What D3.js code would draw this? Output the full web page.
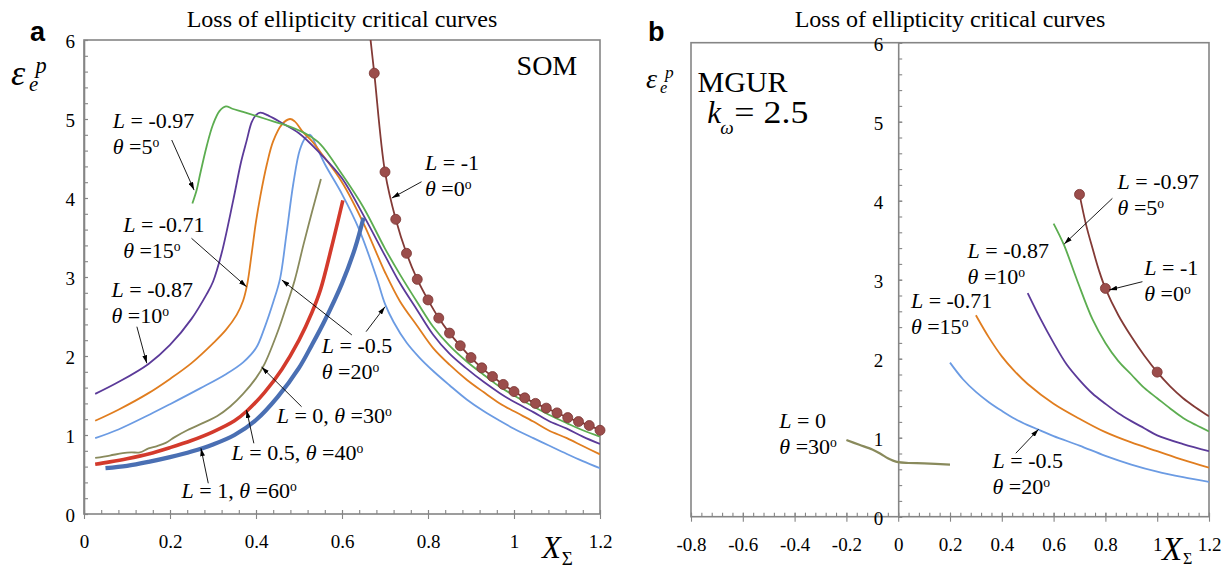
<!DOCTYPE html>
<html>
<head>
<meta charset="utf-8">
<script src="https://cdn.jsdelivr.net/npm/d3@7"></script>
<style>
  html, body { margin: 0; padding: 0; background: #fff; }
  svg, svg text { font-family: 'Liberation Serif', 'Times New Roman', Times, 'DejaVu Serif', serif; }
  svg text { fill: #000; }
  svg text.letter { font-family: 'Liberation Sans', Arial, sans-serif; font-weight: bold; }
</style>
</head>
<body>
<svg id="chart" width="1230" height="570" font-family="Liberation Serif"></svg>
<script>
// ---------------- tick values ----------------
const xTicksSOM  = [0, 0.2, 0.4, 0.6, 0.8, 1, 1.2];
const xTicksMGUR = [-0.8, -0.6, -0.4, -0.2, 0, 0.2, 0.4, 0.6, 0.8, 1, 1.2];
const yTicks     = [0, 1, 2, 3, 4, 5, 6];
const xMinorStep = 0.04;
const yMinorStep = 0.2;

// ---------------- SOM curves: [X_Sigma, eps_e^p] ----------------
const somTheta0 = [[0.664, 6.12], [0.675, 5.58], [0.7, 4.33], [0.725, 3.73], [0.75, 3.3], [0.775, 2.97],
  [0.8, 2.71], [0.825, 2.48], [0.85, 2.29], [0.875, 2.13], [0.9, 1.98], [0.925, 1.85], [0.95, 1.74],
  [0.975, 1.64], [1.0, 1.55], [1.025, 1.47], [1.05, 1.40], [1.075, 1.34], [1.1, 1.28], [1.125, 1.22],
  [1.15, 1.17], [1.175, 1.12], [1.2, 1.06]];
const somTheta5 = [[0.252, 3.93], [0.262, 4.1], [0.27, 4.3], [0.285, 4.65], [0.3, 4.93], [0.315, 5.1],
  [0.33, 5.16], [0.345, 5.13], [0.37, 5.09], [0.4, 5.04], [0.44, 4.97], [0.48, 4.9], [0.52, 4.8],
  [0.55, 4.68], [0.6, 4.3], [0.65, 3.88], [0.7, 3.36], [0.735, 3.03], [0.775, 2.68], [0.812, 2.37],
  [0.85, 2.13], [0.89, 1.93], [0.93, 1.76], [0.967, 1.61], [1.0, 1.5], [1.045, 1.36], [1.08, 1.26],
  [1.123, 1.15], [1.16, 1.06], [1.2, 0.98]];
const somTheta10 = [[0.026, 1.52], [0.08, 1.67], [0.15, 1.9], [0.2, 2.14], [0.25, 2.47], [0.285, 2.78],
  [0.3, 2.94], [0.32, 3.3], [0.347, 3.97], [0.365, 4.45], [0.378, 4.72], [0.39, 4.96], [0.4, 5.05],
  [0.41, 5.08], [0.43, 5.04], [0.46, 4.95], [0.5, 4.82], [0.55, 4.56], [0.6, 4.25], [0.65, 3.78],
  [0.7, 3.27], [0.735, 2.92], [0.775, 2.58], [0.812, 2.27], [0.85, 2.03], [0.89, 1.84], [0.93, 1.67],
  [0.967, 1.53], [1.0, 1.42], [1.045, 1.29], [1.08, 1.18], [1.123, 1.08], [1.16, 0.98], [1.2, 0.886]];
const somTheta15 = [[0.026, 1.18], [0.08, 1.32], [0.15, 1.53], [0.2, 1.71], [0.25, 1.91], [0.3, 2.16],
  [0.33, 2.33], [0.355, 2.52], [0.37, 2.7], [0.38, 2.92], [0.39, 3.3], [0.4, 3.7], [0.41, 4.02],
  [0.425, 4.42], [0.44, 4.72], [0.46, 4.93], [0.479, 5.0], [0.49, 4.97], [0.51, 4.83], [0.53, 4.72],
  [0.55, 4.58], [0.6, 4.2], [0.65, 3.68], [0.7, 3.06], [0.735, 2.69], [0.775, 2.38], [0.812, 2.1],
  [0.85, 1.89], [0.89, 1.7], [0.93, 1.54], [0.967, 1.4], [1.0, 1.3], [1.045, 1.17], [1.08, 1.06],
  [1.123, 0.96], [1.16, 0.86], [1.2, 0.755]];
const somTheta20 = [[0.026, 0.96], [0.08, 1.07], [0.153, 1.26], [0.2, 1.39], [0.27, 1.59], [0.33, 1.77],
  [0.37, 1.92], [0.4, 2.1], [0.42, 2.36], [0.44, 2.68], [0.456, 2.98], [0.471, 3.55], [0.487, 4.19],
  [0.502, 4.61], [0.515, 4.76], [0.526, 4.8], [0.54, 4.66], [0.56, 4.43], [0.6, 4.05], [0.64, 3.6],
  [0.68, 3.0], [0.7, 2.66], [0.72, 2.43], [0.75, 2.17], [0.78, 1.98], [0.812, 1.81], [0.85, 1.63],
  [0.89, 1.45], [0.93, 1.3], [0.967, 1.18], [1.0, 1.08], [1.045, 0.96], [1.08, 0.87], [1.123, 0.76],
  [1.16, 0.67], [1.2, 0.58]];
const somTheta30 = [[0.026, 0.71], [0.06, 0.74], [0.09, 0.77], [0.11, 0.78], [0.13, 0.78], [0.15, 0.83],
  [0.17, 0.86], [0.19, 0.9], [0.21, 0.97], [0.24, 1.06], [0.28, 1.16], [0.31, 1.24], [0.34, 1.36],
  [0.37, 1.52], [0.4, 1.72], [0.42, 1.9], [0.45, 2.3], [0.47, 2.62], [0.49, 2.96], [0.51, 3.4],
  [0.53, 3.82], [0.551, 4.24]];
const somTheta40 = [[0.026, 0.63], [0.06, 0.66], [0.1, 0.7], [0.15, 0.76], [0.2, 0.84], [0.25, 0.93],
  [0.3, 1.04], [0.35, 1.18], [0.38, 1.31], [0.42, 1.54], [0.46, 1.83], [0.5, 2.2], [0.53, 2.55],
  [0.55, 2.84], [0.575, 3.36], [0.602, 3.97]];
const somTheta60 = [[0.05, 0.58], [0.1, 0.61], [0.15, 0.66], [0.2, 0.72], [0.25, 0.79], [0.3, 0.88],
  [0.35, 1.0], [0.4, 1.19], [0.45, 1.48], [0.5, 1.85], [0.53, 2.14], [0.56, 2.45], [0.6, 2.92],
  [0.63, 3.36], [0.65, 3.75]];

// ---------------- MGUR curves (k_omega = 2.5) ----------------
const mgurTheta0 = [[0.7, 4.08], [0.725, 3.7], [0.75, 3.4], [0.775, 3.12], [0.8, 2.89], [0.85, 2.55],
  [0.9, 2.28], [0.95, 2.04], [1.0, 1.83], [1.05, 1.65], [1.1, 1.5], [1.15, 1.38], [1.2, 1.27]];
const mgurTheta0MarkerX = [0.7, 0.8, 1.0];
const mgurTheta5 = [[0.6, 3.71], [0.64, 3.44], [0.69, 3.0], [0.75, 2.5], [0.8, 2.2], [0.85, 1.97],
  [0.9, 1.8], [0.95, 1.63], [1.0, 1.5], [1.05, 1.37], [1.1, 1.25], [1.15, 1.16], [1.2, 1.08]];
const mgurTheta10 = [[0.5, 2.83], [0.55, 2.5], [0.6, 2.2], [0.65, 1.93], [0.7, 1.73], [0.75, 1.56],
  [0.8, 1.43], [0.85, 1.31], [0.9, 1.21], [0.95, 1.12], [1.0, 1.03], [1.1, 0.92], [1.2, 0.83]];
const mgurTheta15 = [[0.3, 2.55], [0.35, 2.27], [0.4, 2.03], [0.45, 1.84], [0.5, 1.68], [0.6, 1.43],
  [0.7, 1.24], [0.8, 1.07], [0.9, 0.94], [1.0, 0.83], [1.1, 0.72], [1.2, 0.62]];
const mgurTheta20 = [[0.2, 1.95], [0.25, 1.74], [0.3, 1.58], [0.35, 1.45], [0.4, 1.34], [0.45, 1.24],
  [0.5, 1.16], [0.55, 1.09], [0.6, 1.02], [0.7, 0.9], [0.8, 0.77], [0.9, 0.66], [1.0, 0.57],
  [1.1, 0.5], [1.2, 0.44]];
const mgurTheta30 = [[-0.2, 0.97], [-0.15, 0.91], [-0.1, 0.85], [-0.07, 0.8], [-0.04, 0.74],
  [-0.02, 0.71], [0, 0.69], [0.04, 0.68], [0.1, 0.675], [0.2, 0.66]];

// ---------------- styling ----------------
const AXIS = "#858585";
const SERIF = "'Liberation Serif', 'Times New Roman', Times, 'DejaVu Serif', serif";
const NOTE_SIZE = 22, TICK_SIZE = 19;
const C = {
  t0: "#833a36", t5: "#5cad50", t10: "#5b3a99", t15: "#e07d1f",
  t20: "#6b9be3", t30: "#898a5c", t40: "#d33a2c", t60: "#4a6fb3"
};

const svg = d3.select("#chart");
const defs = svg.append("defs");
defs.append("marker")
  .attr("id", "arrowHead").attr("viewBox", "0 0 10 6")
  .attr("refX", 10).attr("refY", 3)
  .attr("markerWidth", 8).attr("markerHeight", 5)
  .attr("markerUnits", "userSpaceOnUse").attr("orient", "auto")
  .append("path").attr("d", "M0,0L10,3L0,6Z").attr("fill", "#000");

function txt(parent) {
  return parent.append("text").attr("font-family", SERIF);
}

// text with *italic* runs and ^superscript runs
function rich(t, str) {
  str.split(/(\*[^*]+\*|\^\S+)/).filter(s => s.length).forEach(s => {
    if (s[0] === "*") t.append("tspan").attr("font-style", "italic").text(s.slice(1, -1));
    else if (s[0] === "^") t.append("tspan").attr("font-size", "0.62em").attr("dy", "-0.5em").text(s.slice(1));
    else t.append("tspan").text(s);
  });
  return t;
}

function makePanel(id, xDomain, xRange, yRange) {
  const g = svg.append("g").attr("id", id);
  const x = d3.scaleLinear().domain(xDomain).range(xRange);
  const y = d3.scaleLinear().domain([0, 6]).range(yRange);
  const clipId = id + "-clip";
  defs.append("clipPath").attr("id", clipId).append("rect")
    .attr("x", xRange[0]).attr("y", yRange[1])
    .attr("width", xRange[1] - xRange[0]).attr("height", yRange[0] - yRange[1]);
  return { g, x, y, clipId };
}

function drawAxes(P, xTicks, yAxisAt, yLabelGap) {
  const { g, x, y } = P;
  const [x0, x1] = x.range(), [y0, y1] = y.range();
  const fmt = d => String(+d.toFixed(2));

  // frame
  g.append("rect").attr("x", x0).attr("y", y1).attr("width", x1 - x0).attr("height", y0 - y1)
    .attr("fill", "none").attr("stroke", AXIS).attr("stroke-width", 1.6);

  // x axis minor ticks (inside)
  const xd = x.domain();
  const xMinor = d3.range(xd[0], xd[1] + 1e-9, xMinorStep).map(v => +v.toFixed(3));
  const gxm = g.append("g").attr("transform", `translate(0,${y0})`)
    .call(d3.axisBottom(x).tickValues(xMinor).tickSize(-4).tickSizeOuter(0).tickFormat(""));
  gxm.select(".domain").remove();
  // x axis major ticks + labels
  const gx = g.append("g").attr("transform", `translate(0,${y0})`)
    .call(d3.axisBottom(x).tickValues(xTicks).tickSize(5).tickSizeOuter(0).tickFormat(fmt));
  gx.attr("font-family", SERIF).attr("font-size", TICK_SIZE);
  gx.select(".domain").remove();
  gx.selectAll(".tick line").attr("y1", -4);
  gx.selectAll(".tick text").attr("y", 34).attr("dy", null).attr("fill", "#000");

  // y axis minor ticks (inside, right of the axis)
  const yMinor = d3.range(0, 6 + 1e-9, yMinorStep).map(v => +v.toFixed(3));
  const ax = x(yAxisAt);
  const gym = g.append("g").attr("transform", `translate(${ax},0)`)
    .call(d3.axisLeft(y).tickValues(yMinor).tickSize(-4).tickSizeOuter(0).tickFormat(""));
  gym.select(".domain").remove();
  const gy = g.append("g").attr("transform", `translate(${ax},0)`)
    .call(d3.axisLeft(y).tickValues(yTicks).tickSize(6).tickSizeOuter(0).tickFormat(fmt));
  gy.attr("font-family", SERIF).attr("font-size", TICK_SIZE);
  gy.select(".domain").attr("stroke", AXIS).attr("stroke-width", 1.6);
  gy.selectAll(".tick line").attr("x2", 4);
  gy.selectAll(".tick text").attr("x", -yLabelGap).attr("dy", "0.42em").attr("fill", "#000");

  g.selectAll(".tick line").attr("stroke", AXIS).attr("stroke-width", 1.1);
}

function drawCurve(P, pts, color, width) {
  const line = d3.line().x(d => P.x(d[0])).y(d => P.y(d[1])).curve(d3.curveCatmullRom.alpha(0.5));
  P.g.append("path").datum(pts).attr("clip-path", `url(#${P.clipId})`)
    .attr("d", line).attr("fill", "none").attr("stroke", color)
    .attr("stroke-width", width).attr("stroke-linejoin", "round").attr("stroke-linecap", "butt");
}

function drawMarkers(P, pts) {
  P.g.append("g").selectAll("circle").data(pts).join("circle")
    .attr("cx", d => P.x(d[0])).attr("cy", d => P.y(d[1])).attr("r", 5)
    .attr("fill", "#9b4d4b").attr("stroke", "#7a3532").attr("stroke-width", 0.8);
}

function drawNotes(P, notes, size, lineGap) {
  notes.forEach(n => {
    n.lines.forEach((ln, i) => {
      rich(txt(P.g).attr("x", P.x(n.at[0])).attr("y", P.y(n.at[1]) + i * lineGap)
        .attr("font-size", size), ln);
    });
  });
}

function drawArrows(P, arrows) {
  P.g.append("g").selectAll("line").data(arrows).join("line")
    .attr("x1", d => P.x(d[0][0])).attr("y1", d => P.y(d[0][1]))
    .attr("x2", d => P.x(d[1][0])).attr("y2", d => P.y(d[1][1]))
    .attr("stroke", "#000").attr("stroke-width", 0.9).attr("marker-end", "url(#arrowHead)");
}

function drawTitle(P) {
  const [x0, x1] = P.x.range();
  txt(P.g).attr("x", (x0 + x1) / 2).attr("y", 27).attr("text-anchor", "middle")
    .attr("font-size", 24).text("Loss of ellipticity critical curves");
}

// ================= panel a: SOM =================
const A = makePanel("panel-som", [0, 1.2], [84, 600], [514, 40]);
drawAxes(A, xTicksSOM, 0, 9);
drawTitle(A);

drawCurve(A, somTheta20, C.t20, 1.8);
drawCurve(A, somTheta15, C.t15, 1.8);
drawCurve(A, somTheta10, C.t10, 1.8);
drawCurve(A, somTheta5,  C.t5,  1.8);
drawCurve(A, somTheta30, C.t30, 1.8);
drawCurve(A, somTheta40, C.t40, 3.6);
drawCurve(A, somTheta60, C.t60, 4.2);
drawCurve(A, somTheta0,  C.t0,  1.8);
drawMarkers(A, somTheta0.slice(1));

drawNotes(A, [
  { lines: ["*L* = -0.97", "*θ* =5^o"], at: [0.067, 4.885] },
  { lines: ["*L* = -0.71", "*θ* =15^o"], at: [0.091, 3.573] },
  { lines: ["*L* = -0.87", "*θ* =10^o"], at: [0.064, 2.751] },
  { lines: ["*L* = -0.5", "*θ* =20^o"], at: [0.553, 2.038] },
  { lines: ["*L* = 0, *θ* =30^o"], at: [0.448, 1.148] },
  { lines: ["*L* = 0.5, *θ* =40^o"], at: [0.343, 0.684] },
  { lines: ["*L* = 1, *θ* =60^o"], at: [0.227, 0.203] },
  { lines: ["*L* = -1", "*θ* =0^o"], at: [0.793, 4.354] }
], NOTE_SIZE, 26);
drawArrows(A, [
  [[0.204, 4.734], [0.256, 4.10]],
  [[0.250, 3.490], [0.378, 2.877]],
  [[0.123, 2.371], [0.146, 1.908]],
  [[0.623, 2.266], [0.460, 2.962]],
  [[0.656, 2.308], [0.700, 2.624]],
  [[0.506, 1.358], [0.413, 1.86]],
  [[0.395, 0.895], [0.378, 1.316]],
  [[0.289, 0.389], [0.272, 0.832]],
  [[0.785, 4.206], [0.716, 4.0]]
]);
txt(A.g).attr("x", A.x(1.006)).attr("y", A.y(5.557)).attr("font-size", 28).text("SOM");

// ================= panel b: MGUR =================
const B = makePanel("panel-mgur", [-0.8, 1.2], [691, 1209], [516.7, 42.7]);
drawAxes(B, xTicksMGUR, 0, 15);
drawTitle(B);

drawCurve(B, mgurTheta20, C.t20, 1.8);
drawCurve(B, mgurTheta15, C.t15, 1.8);
drawCurve(B, mgurTheta10, C.t10, 1.8);
drawCurve(B, mgurTheta5,  C.t5,  1.8);
drawCurve(B, mgurTheta30, C.t30, 2.2);
drawCurve(B, mgurTheta0,  C.t0,  1.8);
drawMarkers(B, mgurTheta0.filter(d => mgurTheta0MarkerX.includes(d[0])));

drawNotes(B, [
  { lines: ["*L* = -0.97", "*θ* =5^o"], at: [0.847, 4.148] },
  { lines: ["*L* = -0.87", "*θ* =10^o"], at: [0.268, 3.275] },
  { lines: ["*L* = -1", "*θ* =0^o"], at: [0.950, 3.059] },
  { lines: ["*L* = -0.71", "*θ* =15^o"], at: [0.049, 2.642] },
  { lines: ["*L* = -0.5", "*θ* =20^o"], at: [0.364, 0.616] },
  { lines: ["*L* = 0", "*θ* =30^o"], at: [-0.459, 1.123] }
], NOTE_SIZE, 26);
drawArrows(B, [
  [[0.827, 4.030], [0.641, 3.452]],
  [[0.943, 2.975], [0.815, 2.870]],
  [[0.454, 0.803], [0.542, 1.106]]
]);
txt(B.g).attr("x", B.x(-0.775)).attr("y", B.y(5.38)).attr("font-size", 30).text("MGUR");
const kx = B.x(-0.737), ky = B.y(4.984);
txt(B.g).attr("x", kx).attr("y", ky).attr("font-size", 31).attr("font-style", "italic").text("k");
txt(B.g).attr("x", kx + 13).attr("y", ky + 11).attr("font-size", 19).attr("font-style", "italic").text("ω");
txt(B.g).attr("x", kx + 27).attr("y", ky).attr("font-size", 31)
  .attr("textLength", 74).attr("lengthAdjust", "spacingAndGlyphs").text("= 2.5");

// ================= axis titles and panel letters =================
function epsLabel(x, base, size) {
  txt(svg).attr("x", x).attr("y", base).attr("font-size", size).attr("font-style", "italic").text("ε");
  txt(svg).attr("x", x + size * 0.5).attr("y", base + size * 0.17).attr("font-size", size * 0.58)
    .attr("font-style", "italic").text("e");
  txt(svg).attr("x", x + size * 0.68).attr("y", base - size * 0.34).attr("font-size", size * 0.62)
    .attr("font-style", "italic").text("p");
}
epsLabel(11, 85, 36);
epsLabel(646, 88, 28);

function xSigma(x, base, size, subSize, subDrop) {
  txt(svg).attr("x", x).attr("y", base).attr("font-size", size).attr("font-style", "italic").text("X");
  txt(svg).attr("x", x + size * 0.64).attr("y", base + subDrop).attr("font-size", subSize).text("Σ");
}
xSigma(542, 558, 31, 19, 7);
xSigma(1162, 560, 33, 16, 4);

svg.append("text").attr("class", "letter").attr("x", 30).attr("y", 41).attr("font-size", 27).text("a");
svg.append("text").attr("class", "letter").attr("x", 648).attr("y", 41).attr("font-size", 27).text("b");
</script>
</body>
</html>
